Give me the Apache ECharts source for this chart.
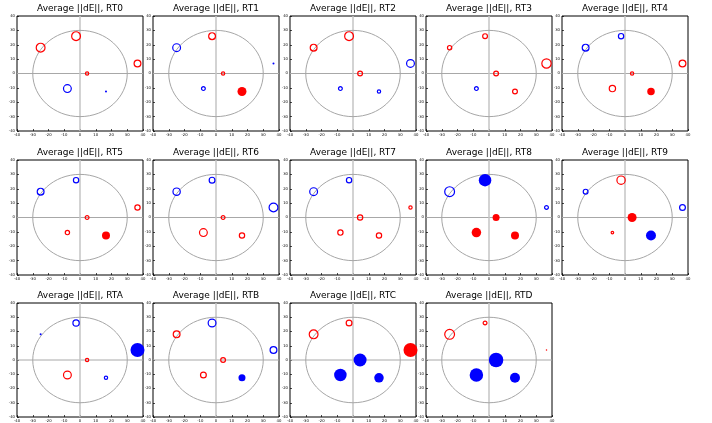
<!DOCTYPE html>
<html>
<head>
<meta charset="utf-8">
<script src="https://cdn.jsdelivr.net/npm/echarts@6/dist/echarts.min.js"></script>
<style>
  html, body { margin: 0; padding: 0; background: #fff; }
  #chart { width: 712px; height: 423px; }
</style>
</head>
<body>
<div id="chart"></div>
<script>
// Panel names
const panelNames = ['RT0', 'RT1', 'RT2', 'RT3', 'RT4', 'RT5', 'RT6', 'RT7', 'RT8', 'RT9', 'RTA', 'RTB', 'RTC', 'RTD'];

// Fixed sample positions shared by every panel
const pointX = [-25, -2.5, 36.5, 4.5, -8, 16.5];
const pointY = [18, 26, 7, 0, -10.5, -12.5];

// Signed average ||dE|| per sample (positive = red, negative = blue)
// and whether the marker is filled
const rt0 = [4.0, 4.0, 3.2, 1.8, -3.6, -0.8];   const rt0Filled = [0, 0, 0, 0, 0, 1];
const rt1 = [-3.6, 3.2, -0.8, 1.8, -2.0, 3.6];  const rt1Filled = [0, 0, 1, 0, 0, 1];
const rt2 = [3.2, 4.0, -3.6, 2.4, -2.0, -1.8];  const rt2Filled = [0, 0, 0, 0, 0, 0];
const rt3 = [2.2, 2.4, 4.2, 2.4, -2.0, 2.4];    const rt3Filled = [0, 0, 0, 0, 0, 0];
const rt4 = [-3.2, -2.6, 3.2, 1.8, 3.0, 3.0];   const rt4Filled = [0, 0, 0, 0, 0, 1];
const rt5 = [-3.2, -2.6, 2.6, 2.0, 2.2, 3.2];   const rt5Filled = [0, 0, 0, 0, 0, 1];
const rt6 = [-3.4, -2.8, -4.0, 2.0, 3.6, 2.6];  const rt6Filled = [0, 0, 0, 0, 0, 0];
const rt7 = [-3.6, -2.6, 1.8, 2.6, 2.6, 2.6];   const rt7Filled = [0, 0, 0, 0, 0, 0];
const rt8 = [-4.4, -5.0, -2.0, 2.8, 3.8, 3.2];  const rt8Filled = [0, 1, 0, 1, 1, 1];
const rt9 = [-2.4, 3.8, -2.8, 3.6, 1.5, -4.0];  const rt9Filled = [0, 0, 0, 1, 0, 1];
const rtA = [-0.8, -3.0, -5.6, 1.8, 3.6, -1.8]; const rtAFilled = [1, 0, 1, 0, 0, 0];
const rtB = [3.2, -3.6, -3.2, 2.4, 2.8, -2.8];  const rtBFilled = [0, 0, 0, 0, 0, 1];
const rtC = [4.0, 2.8, 5.6, -5.2, -5.0, -3.8];  const rtCFilled = [0, 0, 1, 1, 1, 1];
const rtD = [4.4, 2.0, 0.6, -5.8, -5.4, -4.0];  const rtDFilled = [0, 0, 1, 1, 1, 1];

const panelValues = [rt0, rt1, rt2, rt3, rt4, rt5, rt6, rt7, rt8, rt9, rtA, rtB, rtC, rtD];
const panelFilled = [rt0Filled, rt1Filled, rt2Filled, rt3Filled, rt4Filled, rt5Filled, rt6Filled,
                     rt7Filled, rt8Filled, rt9Filled, rtAFilled, rtBFilled, rtCFilled, rtDFilled];

// Axis extent and reference ring
const axisMin = -40, axisMax = 40, axisStep = 10;
const ringRadius = 30;

// Layout
const colLeft = [17, 153, 290, 426, 562];
const rowTop = [16, 160, 303];
const panelW = 126, panelH = 115;
const pxPerUnit = 2.5;
const RED = '#ff0000', BLUE = '#0000ff';
const FONT = 'DejaVu Sans';

const chart = echarts.init(document.getElementById('chart'), null, { renderer: 'canvas' });

const grids = [], xAxes = [], yAxes = [], series = [], texts = [];

panelNames.forEach((name, i) => {
  const col = i % 5, row = Math.floor(i / 5);
  const left = colLeft[col], top = rowTop[row];
  grids.push({
    left: left, top: top, width: panelW, height: panelH,
    show: true, borderColor: '#000', borderWidth: 1, backgroundColor: '#fff'
  });
  const axisCommon = {
    gridIndex: i, type: 'value', min: axisMin, max: axisMax, interval: axisStep,
    axisLine: { show: false, onZero: false },
    splitLine: { show: false },
    axisTick: { show: true, inside: true, length: 2, lineStyle: { color: '#000', width: 0.7 } },
    axisLabel: { show: true, fontSize: 3.8, margin: 2, color: '#000', fontFamily: FONT }
  };
  xAxes.push(Object.assign({ position: 'bottom' }, axisCommon));
  yAxes.push(Object.assign({ position: 'left' }, axisCommon));

  // Crosshair and reference ring
  series.push({
    type: 'custom', xAxisIndex: i, yAxisIndex: i, silent: true, z: 1,
    data: [[0, 0]],
    renderItem: function (params, api) {
      const c = api.coord([0, 0]);
      const rx = api.coord([ringRadius, 0])[0] - c[0];
      const ry = c[1] - api.coord([0, ringRadius])[1];
      const l = api.coord([axisMin, 0]), r = api.coord([axisMax, 0]);
      const t = api.coord([0, axisMax]), b = api.coord([0, axisMin]);
      return {
        type: 'group',
        children: [
          { type: 'line', shape: { x1: l[0], y1: l[1], x2: r[0], y2: r[1] },
            style: { stroke: '#a8a8a8', lineWidth: 1 } },
          { type: 'line', shape: { x1: t[0], y1: t[1], x2: b[0], y2: b[1] },
            style: { stroke: '#c4c4c4', lineWidth: 1.5 } },
          { type: 'ellipse', shape: { cx: c[0], cy: c[1], rx: rx, ry: ry },
            style: { fill: null, stroke: '#a6a6a6', lineWidth: 1 } }
        ]
      };
    }
  });

  // Sample markers
  const vals = panelValues[i], filled = panelFilled[i];
  const data = vals.map((v, k) => {
    const color = v >= 0 ? RED : BLUE;
    const isFilled = filled[k] === 1;
    const d = Math.abs(v) * pxPerUnit;
    return {
      value: [pointX[k], pointY[k], v],
      symbolSize: isFilled ? d : Math.max(d - 1.2, 1),
      itemStyle: isFilled
        ? { color: color, borderWidth: 0, opacity: 1 }
        : { color: 'rgba(0,0,0,0)', borderColor: color, borderWidth: 1.2, opacity: 1 }
    };
  });
  series.push({
    type: 'scatter', xAxisIndex: i, yAxisIndex: i, z: 3,
    symbol: 'circle', data: data, silent: true,
    itemStyle: { opacity: 1 }
  });

  texts.push({
    type: 'text', x: left + panelW / 2, y: top - 7,
    style: {
      text: 'Average ||dE||, ' + name, fill: '#000',
      font: '9px "' + FONT + '"', align: 'center', verticalAlign: 'middle'
    }
  });
});

chart.setOption({
  animation: false,
  backgroundColor: '#fff',
  grid: grids, xAxis: xAxes, yAxis: yAxes,
  series: series,
  graphic: texts
});
</script>
</body>
</html>
